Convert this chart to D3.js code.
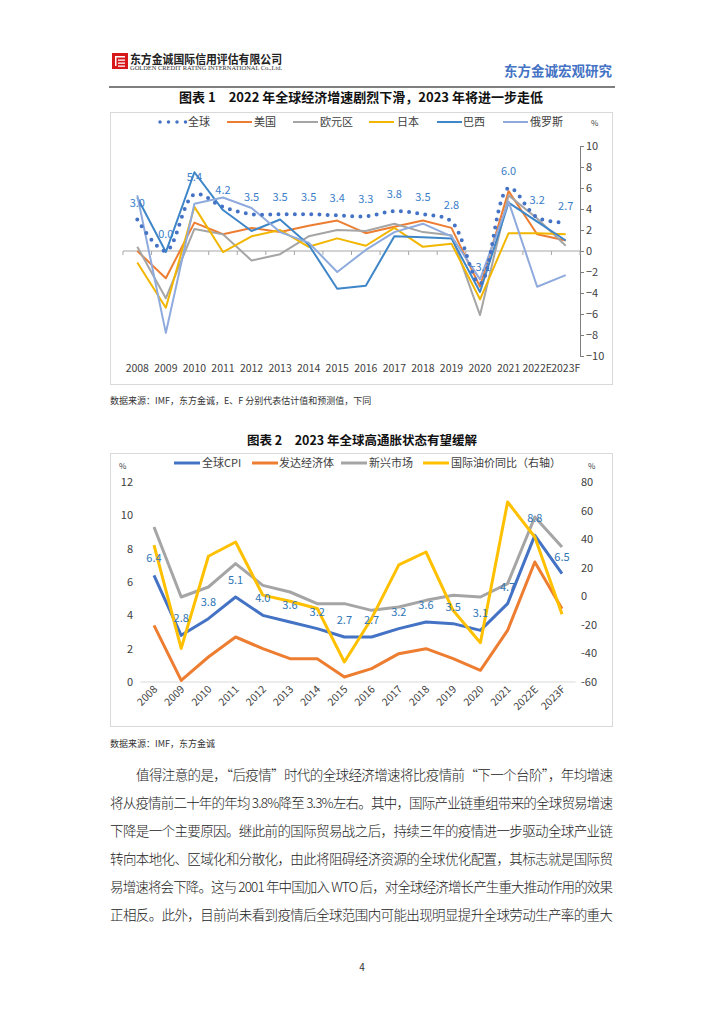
<!DOCTYPE html>
<html><head><meta charset="utf-8">
<script src="https://cdn.jsdelivr.net/npm/d3@7"></script>
<style>
html,body{margin:0;padding:0;background:#fff;}
svg{display:block;font-family:"Noto Sans CJK SC","Noto Sans",sans-serif;}
</style></head>
<body>
<svg id="page" width="724" height="1024"></svg>
<script>
// ---------- DATA: chart 1 ----------
const years1 = ["2008","2009","2010","2011","2012","2013","2014","2015","2016","2017","2018","2019","2020","2021","2022E","2023F"];
const global1 = [3.0,0.0,5.4,4.2,3.5,3.5,3.5,3.4,3.3,3.8,3.5,2.8,-3.1,6.0,3.2,2.7];
const us1     = [0.0,-2.6,2.7,1.6,2.2,1.8,2.4,2.9,1.7,2.3,2.9,2.2,-3.4,5.7,1.6,1.0];
const euro1   = [0.4,-4.5,2.1,1.6,-0.9,-0.3,1.4,2.0,1.9,2.6,1.8,1.5,-6.1,5.3,3.1,0.5];
const japan1  = [-1.1,-5.4,4.2,-0.1,1.4,2.0,0.4,1.2,0.5,2.2,0.4,0.7,-4.6,1.7,1.7,1.6];
const brazil1 = [5.1,-0.1,7.5,3.9,1.9,3.0,0.6,-3.6,-3.3,1.4,1.3,1.2,-3.9,4.6,2.8,1.0];
const russia1 = [5.3,-7.8,4.5,5.1,4.1,1.8,0.8,-2.0,0.1,1.8,2.6,1.4,-2.7,4.7,-3.4,-2.3];
const names1  = ["全球","美国","欧元区","日本","巴西","俄罗斯"];
const yTicks1 = [-10,-8,-6,-4,-2,0,2,4,6,8,10];

// ---------- DATA: chart 2 ----------
const years2 = ["2008","2009","2010","2011","2012","2013","2014","2015","2016","2017","2018","2019","2020","2021","2022E","2023F"];
const cpi2      = [6.4,2.8,3.8,5.1,4.0,3.6,3.2,2.7,2.7,3.2,3.6,3.5,3.1,4.7,8.8,6.5];
const advanced2 = [3.4,0.1,1.5,2.7,2.0,1.4,1.4,0.3,0.8,1.7,2.0,1.4,0.7,3.1,7.2,4.4];
const emerging2 = [9.3,5.1,5.7,7.1,5.8,5.4,4.7,4.7,4.3,4.5,4.9,5.2,5.1,5.9,9.9,8.1];
const oil2      = [35.8,-36.5,28.0,38.0,0.8,-3.5,-8.5,-46.0,-15.5,22.0,31.0,-10.0,-32.5,66.0,41.5,-12.5];
const names2    = ["全球CPI","发达经济体","新兴市场","国际油价同比（右轴）"];
const yTicksL2  = [0,2,4,6,8,10,12];
const yTicksR2  = [-60,-40,-20,0,20,40,60,80];

// ---------- body text ----------
const bodyLines = [
  "值得注意的是，“后疫情”时代的全球经济增速将比疫情前“下一个台阶”，年均增速",
  "将从疫情前二十年的年均 3.8%降至 3.3%左右。其中，国际产业链重组带来的全球贸易增速",
  "下降是一个主要原因。继此前的国际贸易战之后，持续三年的疫情进一步驱动全球产业链",
  "转向本地化、区域化和分散化，由此将阻碍经济资源的全球优化配置，其标志就是国际贸",
  "易增速将会下降。这与 2001 年中国加入 WTO 后，对全球经济增长产生重大推动作用的效果",
  "正相反。此外，目前尚未看到疫情后全球范围内可能出现明显提升全球劳动生产率的重大"
];

const svg = d3.select("#page");
const fmt = d3.format(".1f");

// ---------- header ----------
const hdr = svg.append("g");
hdr.append("rect").attr("x",112).attr("y",53).attr("width",16).attr("height",16).attr("fill","#d7191c");
hdr.append("rect").attr("x",115).attr("y",56).attr("width",10).attr("height",1.5).attr("fill","#fff");
hdr.append("rect").attr("x",115).attr("y",56).attr("width",1.5).attr("height",10).attr("fill","#fff");
hdr.append("rect").attr("x",118).attr("y",59.5).attr("width",7).attr("height",1.3).attr("fill","#fff");
hdr.append("rect").attr("x",118).attr("y",62.5).attr("width",7).attr("height",1.3).attr("fill","#fff");
hdr.append("rect").attr("x",118).attr("y",65.5).attr("width",7).attr("height",1.3).attr("fill","#fff");
hdr.append("text").attr("x",130).attr("y",63.5).attr("font-size",12).attr("font-weight","bold")
  .attr("fill","#222").attr("textLength",152).attr("lengthAdjust","spacingAndGlyphs").text("东方金诚国际信用评估有限公司");
hdr.append("text").attr("x",130).attr("y",70).attr("font-size",5.5).attr("font-family","Liberation Serif")
  .attr("fill","#333").attr("textLength",152).attr("lengthAdjust","spacingAndGlyphs").text("GOLDEN CREDIT RATING INTERNATIONAL Co.,Ltd.");
hdr.append("text").attr("x",612).attr("y",76).attr("text-anchor","end").attr("font-size",13.5).attr("font-weight","bold")
  .attr("fill","#4472C4").text("东方金诚宏观研究");
hdr.append("line").attr("x1",109).attr("x2",615).attr("y1",87).attr("y2",87).attr("stroke","#555").attr("stroke-width",1.5);

// ---------- chart 1 ----------
svg.append("text").attr("x",361).attr("y",102).attr("text-anchor","middle").attr("font-size",13).attr("font-weight","bold")
  .attr("fill","#111").text("图表 1　2022 年全球经济增速剧烈下滑，2023 年将进一步走低");
svg.append("rect").attr("x",110.5).attr("y",112.5).attr("width",502).attr("height",272).attr("fill","none").attr("stroke","#d9d9d9");

const c1 = svg.append("g");
const x1 = d3.scaleBand().domain(years1).range([123,580]);
const cx1 = d => x1(d) + x1.bandwidth()/2;
const y1 = d3.scaleLinear().domain([-10,10]).range([356,146]);

// right axis
const ax1 = c1.append("g").attr("transform","translate(580,0)")
  .call(d3.axisRight(y1).tickValues(yTicks1).tickSize(4).tickPadding(2).tickFormat(d3.format("d")));
ax1.select(".domain").attr("stroke","#7f7f7f");
ax1.selectAll(".tick line").attr("stroke","#7f7f7f");
ax1.selectAll(".tick text").attr("font-size",11).attr("fill","#404040").attr("font-family","Noto Sans CJK SC");

// zero line with category ticks
c1.append("line").attr("x1",123).attr("x2",580).attr("y1",y1(0)).attr("y2",y1(0)).attr("stroke","#a6a6a6");
const edges1 = years1.map(d=>x1(d)).concat([x1.range()[1]]);
c1.selectAll(".e1").data(edges1).join("line").attr("x1",d=>d).attr("x2",d=>d)
  .attr("y1",y1(0)).attr("y2",y1(0)+4).attr("stroke","#a6a6a6");
c1.selectAll(".xl1").data(years1).join("text").attr("x",cx1).attr("y",372).attr("text-anchor","middle")
  .attr("font-size",10.5).attr("fill","#404040").text(d=>d);

const series1 = [
  {v:us1, c:"#ED7D31"},{v:euro1, c:"#A5A5A5"},{v:japan1, c:"#F2B600"},
  {v:brazil1, c:"#3E86C8"},{v:russia1, c:"#8FAADC"}
];
const line1 = d3.line().x((d,i)=>cx1(years1[i])).y(d=>y1(d));
series1.forEach(s=>{
  c1.append("path").attr("d",line1(s.v)).attr("fill","none").attr("stroke",s.c).attr("stroke-width",2).attr("stroke-linejoin","round");
});
const line1s = d3.line().x((d,i)=>cx1(years1[i])).y(d=>y1(d)).curve(d3.curveCatmullRom.alpha(0.5));
c1.append("path").attr("d",line1s(global1)).attr("fill","none").attr("stroke","#4472C4").attr("stroke-width",4)
  .attr("stroke-linecap","round").attr("stroke-dasharray","0 8.2");
c1.selectAll(".lab1").data(global1).join("text").attr("x",(d,i)=>cx1(years1[i])).attr("y",d=>y1(d)-13)
  .attr("text-anchor","middle").attr("font-size",11).attr("fill","#3A7DC9").text(d=>fmt(d));

// legend 1
const leg1 = [
  {x:159, tx:188, c:"#4472C4", dot:true},
  {x:227, tx:254, c:"#ED7D31"},
  {x:293, tx:320, c:"#A5A5A5"},
  {x:369, tx:397, c:"#F2B600"},
  {x:437, tx:463, c:"#3E86C8"},
  {x:503, tx:530, c:"#8FAADC"}
];
leg1.forEach((l,i)=>{
  if(l.dot){
    c1.append("line").attr("x1",l.x+1).attr("x2",l.x+27).attr("y1",122).attr("y2",122).attr("stroke",l.c)
      .attr("stroke-width",3.5).attr("stroke-linecap","round").attr("stroke-dasharray","0 8.5");
  } else {
    c1.append("line").attr("x1",l.x).attr("x2",l.x+25).attr("y1",122).attr("y2",122).attr("stroke",l.c).attr("stroke-width",2);
  }
  c1.append("text").attr("x",l.tx).attr("y",126).attr("font-size",11).attr("fill","#404040").text(names1[i]);
});
c1.append("text").attr("x",591).attr("y",126).attr("font-size",8).attr("fill","#404040").text("%");

svg.append("text").attr("x",110).attr("y",404).attr("font-size",9).attr("fill","#333")
  .text("数据来源：IMF，东方金诚，E、F 分别代表估计值和预测值，下同");

// ---------- chart 2 ----------
svg.append("text").attr("x",362).attr("y",445).attr("text-anchor","middle").attr("font-size",12.5).attr("font-weight","bold")
  .attr("fill","#111").text("图表 2　2023 年全球高通胀状态有望缓解");
svg.append("rect").attr("x",110.5).attr("y",453.5).attr("width",502).attr("height",273).attr("fill","none").attr("stroke","#d9d9d9");

const c2 = svg.append("g");
const x2 = d3.scaleBand().domain(years2).range([140.4,575.6]);
const cx2 = d => x2(d) + x2.bandwidth()/2;
const yL = d3.scaleLinear().domain([0,12]).range([682,482]);
const yR = d3.scaleLinear().domain([-60,80]).range([682,482]);

c2.selectAll(".yl2").data(yTicksL2).join("text").attr("x",133).attr("y",d=>yL(d)+4).attr("text-anchor","end")
  .attr("font-size",11).attr("fill","#404040").text(d=>d);
c2.selectAll(".yr2").data(yTicksR2).join("text").attr("x",581).attr("y",d=>yR(d)+4)
  .attr("font-size",11).attr("fill","#404040").text(d=>d);
c2.append("text").attr("x",119).attr("y",469).attr("font-size",8).attr("fill","#404040").text("%");
c2.append("text").attr("x",588).attr("y",469).attr("font-size",8).attr("fill","#404040").text("%");
c2.append("line").attr("x1",140.4).attr("x2",575.6).attr("y1",yL(0)).attr("y2",yL(0)).attr("stroke","#d9d9d9");
c2.selectAll(".xl2").data(years2).join("text")
  .attr("transform",d=>`translate(${cx2(d)+4},${690}) rotate(-45)`).attr("text-anchor","end")
  .attr("font-size",10.5).attr("fill","#404040").text(d=>d);

const lineL = d3.line().x((d,i)=>cx2(years2[i])).y(d=>yL(d));
const lineR = d3.line().x((d,i)=>cx2(years2[i])).y(d=>yR(d));
[{v:emerging2,c:"#A5A5A5"},{v:advanced2,c:"#ED7D31"},{v:cpi2,c:"#4472C4"}].forEach(s=>{
  c2.append("path").attr("d",lineL(s.v)).attr("fill","none").attr("stroke",s.c).attr("stroke-width",3).attr("stroke-linejoin","round");
});
c2.append("path").attr("d",lineR(oil2)).attr("fill","none").attr("stroke","#FFC000").attr("stroke-width",3).attr("stroke-linejoin","round");
c2.selectAll(".lab2").data(cpi2).join("text").attr("x",(d,i)=>cx2(years2[i])).attr("y",d=>yL(d)-13)
  .attr("text-anchor","middle").attr("font-size",11).attr("fill","#2E75B6").text(d=>fmt(d));

const leg2 = [
  {x:174, tx:202, c:"#4472C4"},
  {x:252, tx:279, c:"#ED7D31"},
  {x:341, tx:369, c:"#A5A5A5"},
  {x:423, tx:451, c:"#FFC000"}
];
leg2.forEach((l,i)=>{
  c2.append("line").attr("x1",l.x).attr("x2",l.x+26).attr("y1",463).attr("y2",463).attr("stroke",l.c).attr("stroke-width",3);
  c2.append("text").attr("x",l.tx).attr("y",467).attr("font-size",11).attr("fill","#404040").text(names2[i]);
});

svg.append("text").attr("x",110).attr("y",747).attr("font-size",9).attr("fill","#333").text("数据来源：IMF，东方金诚");

// ---------- body ----------
const bodyY = [775,803,831,859,887,915];
bodyLines.forEach((t,i)=>{
  const x0 = i===0 ? 136 : 110;
  svg.append("text").attr("x",x0).attr("y",bodyY[i]+5).attr("font-size",13.5).attr("font-weight",300).attr("fill","#222")
    .attr("textLength",613-x0).attr("lengthAdjust","spacing").attr("xml:space","preserve").text(t);
});
svg.append("text").attr("x",362).attr("y",971).attr("text-anchor","middle").attr("font-size",10).attr("fill","#333").text("4");
</script>
</body></html>
